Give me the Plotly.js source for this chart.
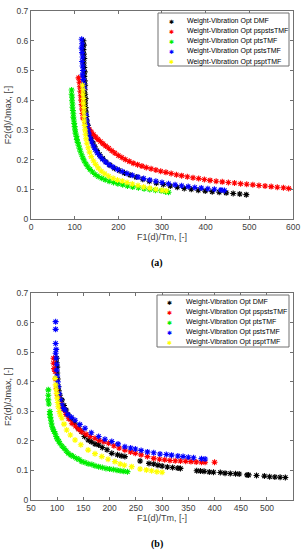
<!DOCTYPE html>
<html>
<head>
<meta charset="utf-8">
<script src="https://cdn.plot.ly/plotly-3.0.1.min.js"></script>
<style>html,body{margin:0;padding:0;background:#fff;}#chart{width:305px;height:550px;}</style>
</head>
<body>
<div id="chart"></div>
<script>
// ---------- Data (a) ----------
const seriesNames = ["Weight-Vibration Opt DMF","Weight-Vibration Opt pspstsTMF","Weight-Vibration Opt ptsTMF","Weight-Vibration Opt pstsTMF","Weight-Vibration Opt psptTMF"];
const seriesColors = ["#000000","#ff0000","#00ee00","#0000ff","#ffff00"];

const aDMF_x = [120,121,120,121,122,121,122,123,122,123,124,123,124,125,124,125,126,127,128,130,132,135,138,142,146,151,157,164,172,181,191,202,214,227,241,256,271,287,303,319,335,351,367,383,399,415,431,447,463,478,493];
const aDMF_y = [0.60,0.585,0.57,0.555,0.54,0.525,0.51,0.495,0.48,0.465,0.45,0.435,0.42,0.405,0.39,0.375,0.36,0.345,0.33,0.315,0.30,0.285,0.27,0.256,0.243,0.23,0.217,0.204,0.192,0.181,0.171,0.163,0.155,0.148,0.141,0.134,0.127,0.121,0.116,0.111,0.107,0.103,0.100,0.097,0.094,0.092,0.090,0.088,0.086,0.084,0.082];

const aPSPSTS_x = [109,111,112,113,114,115,116,117,118,119,124,127,130,134,138,143,148,153,159,165,171,178,185,192,200,208,216,225,234,244,254,264,275,286,297,309,321,333,345,358,371,384,397,410,424,438,452,466,480,494,508,522,536,550,564,578,590];
const aPSPSTS_y = [0.475,0.46,0.445,0.43,0.415,0.40,0.385,0.37,0.355,0.34,0.325,0.315,0.307,0.30,0.293,0.284,0.276,0.268,0.261,0.253,0.246,0.238,0.23,0.222,0.214,0.207,0.20,0.194,0.188,0.183,0.178,0.173,0.169,0.165,0.161,0.157,0.153,0.149,0.146,0.142,0.139,0.136,0.133,0.13,0.127,0.125,0.123,0.121,0.119,0.117,0.115,0.113,0.111,0.109,0.107,0.105,0.103];

const aPTS_x = [93,93,94,94,95,95,96,97,97,98,99,100,101,102,104,105,107,109,111,113,116,119,122,126,130,135,141,147,154,162,170,179,189,199,210,221,233,246,259,272,285,298,308,315];
const aPTS_y = [0.434,0.42,0.41,0.398,0.387,0.376,0.365,0.354,0.343,0.333,0.322,0.311,0.30,0.289,0.278,0.268,0.258,0.248,0.238,0.228,0.216,0.205,0.195,0.185,0.176,0.167,0.158,0.150,0.143,0.137,0.132,0.127,0.123,0.119,0.115,0.111,0.108,0.105,0.102,0.099,0.097,0.095,0.092,0.090];

const aPSTS_x = [116,117,116,117,118,117,118,119,118,120,121,122,126,127,129,131,133,136,139,143,147,152,158,164,171,179,188,198,209,220,232,245,258,272,286,300,315,330,345,360,375,390,405,420,435,443];
const aPSTS_y = [0.605,0.59,0.575,0.56,0.545,0.53,0.515,0.50,0.485,0.47,0.455,0.44,0.35,0.333,0.316,0.30,0.286,0.272,0.259,0.246,0.234,0.222,0.211,0.201,0.192,0.183,0.175,0.167,0.16,0.153,0.147,0.141,0.136,0.131,0.127,0.123,0.119,0.115,0.112,0.109,0.106,0.104,0.102,0.100,0.098,0.096];

const aPSPT_x = [118,119,119,120,120,121,121,122,122,123,124,125,126,128,131,134,138,143,148,154,161,169,178,188,198,209,220,232,245,258,272,286,300,310];
const aPSPT_y = [0.45,0.435,0.42,0.405,0.39,0.375,0.36,0.345,0.33,0.315,0.30,0.285,0.27,0.255,0.24,0.225,0.21,0.196,0.184,0.172,0.161,0.152,0.144,0.137,0.131,0.128,0.123,0.118,0.113,0.108,0.104,0.10,0.097,0.095];

// ---------- Data (b) ----------
const bDMF_x = [99,99,100,100,101,102,103,105,109,113,117,121,127,133,140,146,152,159,165,172,179,186,195,204,215,222,229,258,275,284,292,300,310,320,330,335,366,373,380,390,398,411,420,430,440,447,462,465,480,495,505,515,525,535];
const bDMF_y = [0.48,0.465,0.45,0.43,0.41,0.384,0.37,0.355,0.339,0.32,0.305,0.288,0.275,0.26,0.243,0.232,0.215,0.203,0.197,0.19,0.186,0.178,0.17,0.158,0.153,0.15,0.147,0.132,0.124,0.122,0.118,0.115,0.112,0.11,0.108,0.107,0.099,0.098,0.097,0.095,0.094,0.093,0.091,0.09,0.089,0.088,0.085,0.085,0.083,0.081,0.079,0.078,0.077,0.076];

const bPSPSTS_x = [93,93,94,96,97,99,100,102,105,108,112,117,122,128,135,141,147,155,163,172,180,189,198,208,218,229,240,249,260,272,284,295,305,315,325,335,345,355,365,375,382,400];
const bPSPSTS_y = [0.48,0.463,0.445,0.435,0.41,0.378,0.36,0.35,0.33,0.315,0.305,0.29,0.275,0.26,0.25,0.24,0.231,0.223,0.215,0.209,0.202,0.197,0.192,0.184,0.176,0.169,0.163,0.158,0.153,0.147,0.141,0.138,0.136,0.134,0.133,0.132,0.131,0.13,0.129,0.128,0.128,0.128];

const bPTS_x = [83,83,83,84,86,86,87,88,89,90,92,94,96,98,100,103,105,109,113,117,121,126,131,137,142,147,153,159,166,172,179,186,193,200,207,214,220,227,234];
const bPTS_y = [0.373,0.355,0.339,0.325,0.30,0.29,0.28,0.27,0.26,0.25,0.24,0.232,0.226,0.215,0.207,0.199,0.192,0.183,0.175,0.167,0.158,0.152,0.147,0.141,0.137,0.13,0.127,0.123,0.12,0.116,0.113,0.11,0.107,0.105,0.103,0.101,0.099,0.097,0.096];

const bPSTS_x = [97,97,97,98,97,98,99,99,100,101,102,104,106,109,112,115,120,127,134,143,153,165,179,191,204,216,229,240,249,260,272,284,296,308,318,330,340,350,360,375,382];
const bPSTS_y = [0.604,0.578,0.53,0.51,0.497,0.48,0.46,0.44,0.42,0.40,0.384,0.36,0.34,0.322,0.31,0.305,0.29,0.28,0.27,0.256,0.243,0.228,0.215,0.206,0.198,0.19,0.18,0.176,0.173,0.168,0.163,0.16,0.156,0.154,0.152,0.149,0.147,0.145,0.143,0.14,0.139];

const bPSPT_x = [96,97,98,99,100,101,102,104,106,109,113,118,125,134,145,159,172,185,197,210,220,228,242,258,270,280,290,300];
const bPSPT_y = [0.412,0.39,0.375,0.361,0.345,0.33,0.316,0.30,0.288,0.277,0.257,0.237,0.22,0.203,0.187,0.169,0.157,0.147,0.138,0.13,0.122,0.118,0.113,0.105,0.102,0.099,0.096,0.094];

// ---------- Axis ticks ----------
const aXticks = [0,100,200,300,400,500,600];
const bXticks = [50,100,150,200,250,300,350,400,450,500];
const yTicks = [0,0.1,0.2,0.3,0.4,0.5,0.6,0.7];
const yTickText = ["0","0.1","0.2","0.3","0.4","0.5","0.6","0.7"];
const xTitle = "F1(d)/Tm, [-]";
const yTitle = "F2(d)/Jmax, [-]";
const panelLabels = ["(a)","(b)"];

const aSets = [[aDMF_x,aDMF_y],[aPSPSTS_x,aPSPSTS_y],[aPTS_x,aPTS_y],[aPSTS_x,aPSTS_y],[aPSPT_x,aPSPT_y]];
const bSets = [[bDMF_x,bDMF_y],[bPSPSTS_x,bPSPSTS_y],[bPTS_x,bPTS_y],[bPSTS_x,bPSTS_y],[bPSPT_x,bPSPT_y]];

const mk = (c)=>({symbol:'asterisk-open',size:5,color:c,line:{width:1.1,color:c}});
const traces = [];
aSets.forEach((s,i)=>{
  traces.push({x:s[0],y:s[1],type:'scatter',mode:'markers',name:seriesNames[i],
    xaxis:'x',yaxis:'y',showlegend:false,marker:mk(seriesColors[i])});
});
bSets.forEach((s,i)=>{
  traces.push({x:s[0],y:s[1],type:'scatter',mode:'markers',name:seriesNames[i],
    xaxis:'x2',yaxis:'y2',showlegend:false,marker:mk(seriesColors[i])});
});

const axisCommon = {
  showline:true, linecolor:'#707070', linewidth:1, mirror:'ticks',
  ticks:'inside', ticklen:3, tickcolor:'#707070', showgrid:false, zeroline:false,
  tickfont:{family:'Liberation Sans, Arial, sans-serif', size:8.5, color:'#404040'}
};
const titleFont = {family:'Liberation Sans, Arial, sans-serif', size:9, color:'#404040'};

// custom legends (pixel geometry converted to paper coords)
const W = 305, H = 550;
const px = v => v / W, py = v => 1 - v / H;
const shapes = [];
const annotations = [];
function addLegend(left, right, top, bottom, firstRow, step) {
  shapes.push({type:'rect', xref:'paper', yref:'paper', x0:px(left), x1:px(right), y0:py(bottom), y1:py(top),
    line:{color:'#707070', width:1}, fillcolor:'#ffffff', layer:'above'});
  seriesNames.forEach((n,i)=>{
    const yy = py(firstRow + i*step);
    annotations.push({text:'✱', xref:'paper', yref:'paper', x:px(left+13), y:yy, showarrow:false,
      xanchor:'center', yanchor:'middle', font:{family:'DejaVu Sans', size:6, color:seriesColors[i]}});
    annotations.push({text:n, xref:'paper', yref:'paper', x:px(left+27), y:yy, showarrow:false,
      xanchor:'left', yanchor:'middle', font:{family:'Liberation Sans, Arial, sans-serif', size:7, color:'#000'}});
  });
}
addLegend(158, 289, 13, 66, 21.5, 10);
addLegend(157, 289, 295, 347, 302, 10);

annotations.push({text:'<b>'+panelLabels[0]+'</b>', xref:'paper', yref:'paper', x:px(157), y:py(263), showarrow:false,
  font:{family:'Liberation Serif, Times New Roman, serif', size:10, color:'#000'}, xanchor:'center', yanchor:'middle'});
annotations.push({text:'<b>'+panelLabels[1]+'</b>', xref:'paper', yref:'paper', x:px(157), y:py(544), showarrow:false,
  font:{family:'Liberation Serif, Times New Roman, serif', size:10, color:'#000'}, xanchor:'center', yanchor:'middle'});

const layout = {
  width:W, height:H,
  margin:{l:0,r:0,t:0,b:0},
  paper_bgcolor:'#fff', plot_bgcolor:'#fff',
  showlegend:false,
  xaxis: Object.assign({}, axisCommon, {domain:[0.1016,0.9607], anchor:'y', range:[0,600], tickvals:aXticks,
    title:{text:xTitle, font:titleFont, standoff:1}}),
  yaxis: Object.assign({}, axisCommon, {domain:[0.6018,0.98], anchor:'x', range:[0,0.7], tickvals:yTicks, ticktext:yTickText,
    title:{text:yTitle, font:titleFont, standoff:3}}),
  xaxis2: Object.assign({}, axisCommon, {domain:[0.1016,0.9607], anchor:'y2', range:[50,549.6], tickvals:bXticks,
    title:{text:xTitle, font:titleFont, standoff:1}}),
  yaxis2: Object.assign({}, axisCommon, {domain:[0.0909,0.4667], anchor:'x2', range:[0,0.7], tickvals:yTicks, ticktext:yTickText,
    title:{text:yTitle, font:titleFont, standoff:3}}),
  shapes: shapes,
  annotations: annotations
};

Plotly.newPlot('chart', traces, layout, {displayModeBar:false, staticPlot:true});
</script>
</body>
</html>
